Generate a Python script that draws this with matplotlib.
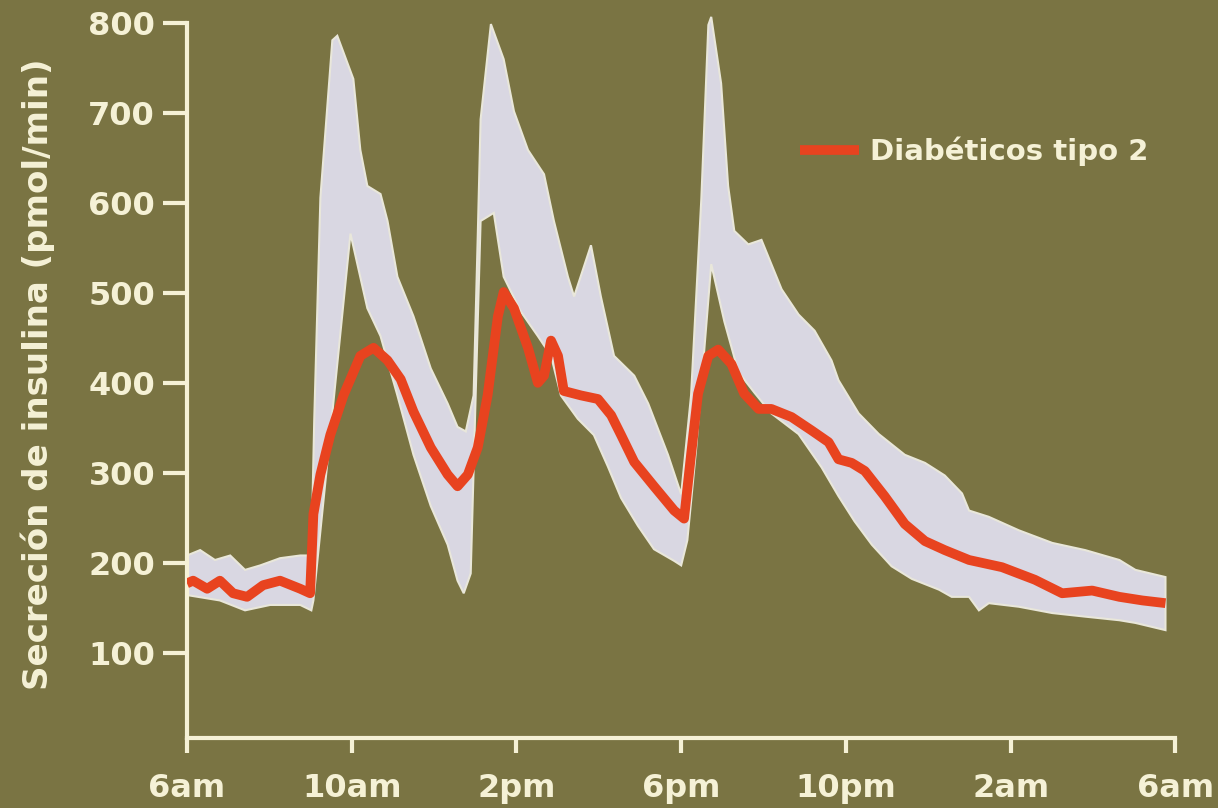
import numpy as np
import matplotlib
matplotlib.use("Agg")
import matplotlib.pyplot as plt

# hours after 6am
mean_h = [0, 0.15, 0.49, 0.80, 1.12, 1.46, 1.85, 2.26, 2.75, 2.99, 3.07, 3.24, 3.48, 3.80,
          4.21, 4.53, 4.87, 5.19, 5.50, 5.92, 6.33, 6.57, 6.82, 7.06, 7.30, 7.55, 7.69, 7.94,
          8.28, 8.52, 8.67, 8.84, 9.01, 9.15, 9.57, 9.98, 10.30, 10.54, 10.86, 11.34, 11.83,
          12.07, 12.24, 12.41, 12.66, 12.90, 13.22, 13.53, 13.88, 14.19, 14.68, 15.17, 15.58,
          15.82, 16.14, 16.46, 16.94, 17.43, 17.92, 18.40, 18.99, 19.79, 20.59, 21.25, 21.98,
          22.64, 23.20, 23.76]
mean_v = [177, 180, 171, 180, 166, 162, 175, 180, 171, 166, 254, 298, 342, 386,
          430, 439, 425, 404, 368, 328, 298, 285, 298, 328, 386, 474, 501, 483,
          439, 400, 408, 447, 430, 391, 386, 382, 364, 342, 312, 285, 258,
          249, 320, 388, 430, 437, 421, 388, 371, 371, 362, 347, 334,
          315, 311, 302, 274, 243, 224, 214, 203, 195, 181, 166, 169,
          162, 158, 155]

upper_h = [0, 0.32, 0.68, 1.05, 1.41, 1.78, 2.26, 2.75, 3.02, 3.09, 3.24, 3.53, 3.65, 4.04,
           4.21, 4.38, 4.70, 4.87, 5.11, 5.50, 5.92, 6.33, 6.57, 6.77, 6.96, 7.06, 7.13, 7.38,
           7.69, 7.94, 8.28, 8.67, 8.91, 9.25, 9.40, 9.81, 10.05, 10.37, 10.86, 11.20, 11.68,
           12.0, 12.24, 12.49, 12.66, 12.73, 12.97, 13.14, 13.29, 13.63, 13.95, 14.19, 14.44,
           14.85, 15.24, 15.65, 15.82, 16.31, 16.80, 17.43, 17.92, 18.40, 18.82, 18.99, 19.47,
           20.20, 21.01, 21.81, 22.64, 23.03, 23.76]
upper_v = [208, 214, 203, 208, 192, 197, 205, 208, 208, 358, 606, 781, 786, 738,
           659, 619, 610, 580, 518, 474, 416, 377, 351, 346, 386, 562, 693, 799,
           760, 702, 659, 632, 580, 518, 496, 553, 496, 430, 408, 377, 320,
           276, 386, 605, 798, 807, 733, 619, 569, 554, 559, 532, 504,
           476, 458, 425, 403, 366, 343, 320, 311, 297, 277, 258, 251,
           236, 222, 214, 203, 192, 184]

lower_h = [0, 0.80, 1.41, 2.02, 2.75, 3.02, 3.07, 3.97, 4.38, 4.70, 5.11, 5.50, 5.92, 6.33,
           6.57, 6.72, 6.89, 7.01, 7.13, 7.45, 7.69, 8.11, 8.52, 8.84, 9.08, 9.49, 9.88, 10.22,
           10.54, 10.95, 11.34, 11.83, 12.0, 12.15, 12.36, 12.56, 12.73, 13.05, 13.39, 13.78,
           14.19, 14.85, 15.41, 15.82, 16.21, 16.63, 17.11, 17.60, 18.26, 18.57, 18.99, 19.23,
           19.47, 20.20, 21.01, 21.81, 22.64, 23.03, 23.76]
lower_v = [164, 158, 147, 153, 153, 147, 158, 566, 483, 452, 386, 320, 263, 220,
           180, 166, 188, 386, 580, 589, 518, 479, 452, 430, 386, 360, 342, 307,
           272, 241, 215, 202, 197, 225, 325, 436, 532, 468, 412, 389,
           366, 343, 306, 274, 246, 220, 196, 182, 170, 162, 162, 147,
           155, 151, 144, 140, 136, 133, 125]

tick_h = [0, 4, 8, 12, 16, 20, 24]
tick_labels = ["6am", "10am", "2pm", "6pm", "10pm", "2am", "6am"]
y_ticks = [100, 200, 300, 400, 500, 600, 700, 800]

bg = "#7a7443"
cream = "#f5f1d6"
red = "#e8431f"
band = "#d9d7e2"

plt.rcParams["font.family"] = ["DejaVu Sans"]
plt.rcParams["font.weight"] = "bold"

fig = plt.figure(figsize=(12.18, 8.08), dpi=100, facecolor=bg)
ax = fig.add_axes([0.1535, 0.0866, 0.8115, 0.9014])
ax.set_facecolor(bg)

poly_x = np.concatenate([upper_h, lower_h[::-1]])
poly_y = np.concatenate([upper_v, lower_v[::-1]])
ax.fill(poly_x, poly_y, color=band, ec="#e9e7da", lw=1.5, zorder=2)
ax.plot(mean_h, mean_v, color=red, lw=7, solid_joinstyle="round",
        solid_capstyle="butt", label="Diabéticos tipo 2", zorder=3)

ax.set_xlim(0, 24)
ax.set_ylim(5, 815)
ax.set_xticks(tick_h)
ax.set_xticklabels(tick_labels)
ax.set_yticks(y_ticks)

for s in ["top", "right"]:
    ax.spines[s].set_visible(False)
for s in ["left", "bottom"]:
    ax.spines[s].set_color(cream)
    ax.spines[s].set_linewidth(3)
ax.spines["left"].set_bounds(5, 800)

ax.tick_params(axis="y", colors=cream, length=17, width=3, labelsize=23, pad=6)
ax.tick_params(axis="x", colors=cream, length=11, width=3, labelsize=23, pad=14)
for lab in ax.get_xticklabels() + ax.get_yticklabels():
    lab.set_fontweight("bold")

ax.set_ylabel("Secreción de insulina (pmol/min)", color=cream, fontsize=24.5,
              fontweight="bold", labelpad=24)

leg = ax.legend(loc="center left", bbox_to_anchor=(0.657, 0.813),
                bbox_transform=fig.transFigure, frameon=False, fontsize=21,
                handlelength=2.0, handletextpad=0.4, borderpad=0, borderaxespad=0)
for t in leg.get_texts():
    t.set_color(cream)
    t.set_fontweight("bold")

fig.savefig("out.png", dpi=100, facecolor=bg)
